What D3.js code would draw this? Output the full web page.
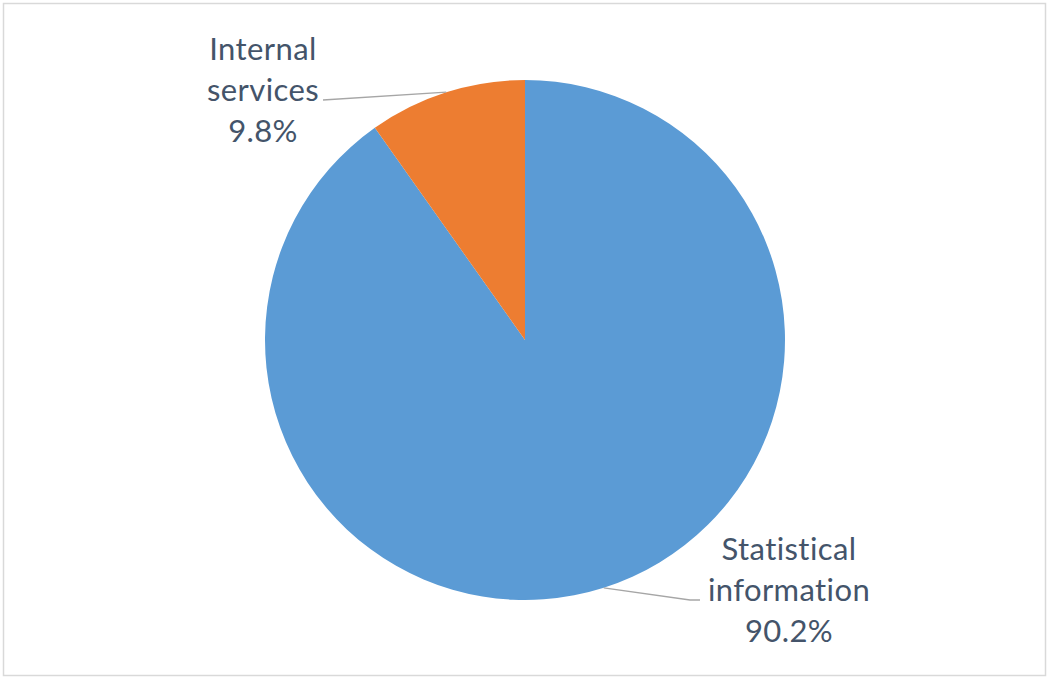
<!DOCTYPE html>
<html><head><meta charset="utf-8">
<script src="https://cdn.jsdelivr.net/npm/d3@7"></script>
<style>html,body{margin:0;padding:0;background:#fff;}svg{display:block;}</style>
</head><body>
<svg id="chart" width="1049" height="679"></svg>
<script>
const categories = ["Statistical information", "Internal services"];
const values = [90.2, 9.8];
const labelLines = [["Statistical", "information", "90.2%"], ["Internal", "services", "9.8%"]];
const colors = ["#5B9BD5", "#ED7D31"];

const svg = d3.select("#chart");
svg.append("rect").attr("x", 3.5).attr("y", 3.5).attr("width", 1042).attr("height", 672)
  .attr("fill", "#fff").attr("stroke", "#d9d9d9").attr("stroke-width", 1.5);

const cx = 525, cy = 340, R = 260;
const g = svg.append("g").attr("transform", `translate(${cx},${cy})`);
const pie = d3.pie().sort(null).value(d => d)(values);
const arc = d3.arc().innerRadius(0).outerRadius(R);
g.selectAll("path.slice").data(pie).join("path").attr("class", "slice")
  .attr("d", arc).attr("fill", (d, i) => colors[i]);

const labelPos = [
  {x: 789, y: 590, line: [[690, 600], [700, 600]]},
  {x: 263, y: 90, line: [[323, 100]]}
];
pie.forEach((d, i) => {
  const a = (d.startAngle + d.endAngle) / 2;
  const px = cx + R * Math.sin(a), py = cy - R * Math.cos(a);
  const pts = [[px, py]].concat(labelPos[i].line);
  svg.append("path").attr("d", d3.line()(pts)).attr("fill", "none")
    .attr("stroke", "#a6a6a6").attr("stroke-width", 1.3);
  const t = svg.append("text").attr("text-anchor", "middle")
    .attr("font-family", "Lato, 'Open Sans', sans-serif").attr("font-size", 31)
    .attr("letter-spacing", 0.4)
    .attr("fill", "#44546A");
  labelLines[i].forEach((s, k) => {
    t.append("tspan").attr("x", labelPos[i].x).attr("y", labelPos[i].y + (k - 1) * 41)
      .attr("dy", "0.35em").text(s);
  });
});
</script>
</body></html>
